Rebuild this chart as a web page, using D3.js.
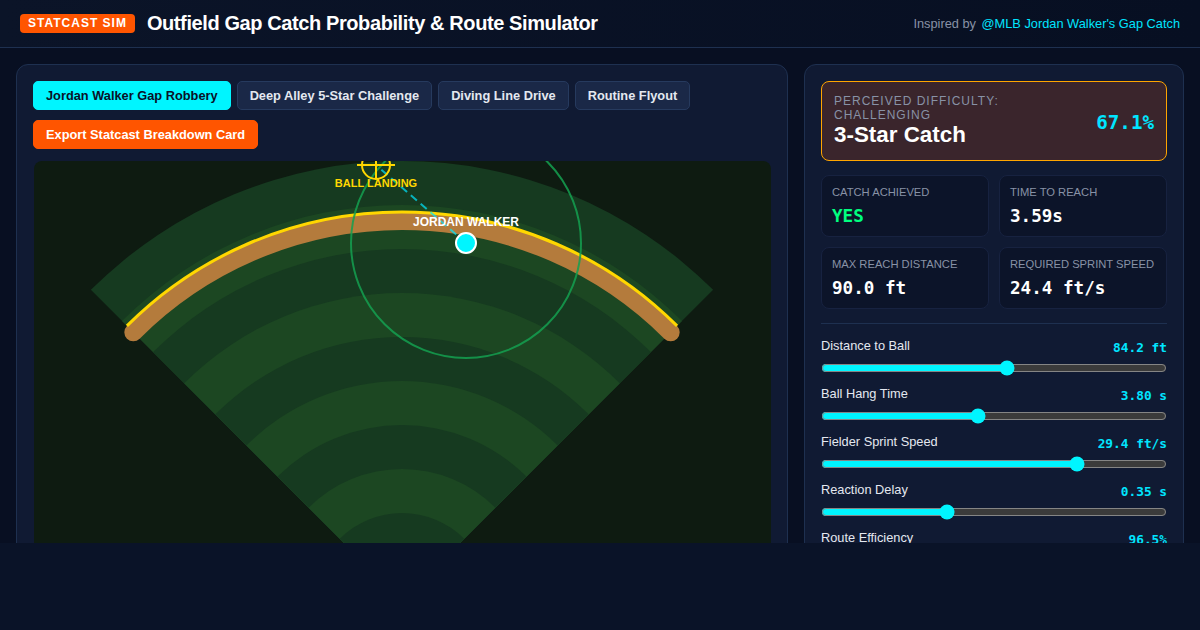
<!DOCTYPE html>
<html>
<head>
<meta charset="utf-8">
<script src="https://cdn.jsdelivr.net/npm/d3@7"></script>
<style>
* { box-sizing: border-box; }
html, body { margin: 0; height: 630px; overflow: hidden; background: #0a1328; font-family: "Liberation Sans", Arial, sans-serif; color: #fff; }
.app { height: 543px; overflow: hidden; position: relative; background: #080f22; }
header { height: 48px; background: linear-gradient(90deg, #0b1428, #070f22); border-bottom: 1px solid #1e3050; display: flex; align-items: center; padding: 0 20px; }
.badge { background: #ff5500; color: #fff; font-size: 12px; font-weight: 700; letter-spacing: 1px; padding: 3px 8px; border-radius: 4px; height: 19px; line-height: 13px; margin-right: 12px; }
h1 { font-size: 20px; font-weight: 700; letter-spacing: -0.4px; margin: 0; }
.inspired { margin-left: auto; font-size: 12.8px; color: #8892a6; }
.inspired a { color: #00e5ff; margin-left: 2px; }
.panel { position: absolute; top: 64px; height: 600px; background: #101a33; border: 1px solid #1e3050; border-radius: 12px; }
#left { left: 16px; width: 772px; padding: 16px; }
#right { left: 804px; width: 380px; padding: 16px; }
.btns { display: flex; flex-wrap: wrap; gap: 10px 6px; }
.btn { height: 29px; padding: 0 12px; border: 1px solid #263a5e; background: #1a2847; color: #e4e8f0; font-size: 12.8px; font-weight: 700; border-radius: 5px; line-height: 27px; }
.btn.on { background: #00f5ff; border-color: #00f5ff; color: #0a1128; }
.btn.exp { background: #ff5500; border-color: #ff5500; color: #fff; }
#field { position: absolute; left: 17px; top: 96px; border-radius: 8px; display: block; }
.hero { height: 80px; border: 1px solid #ffa500; background: #3a252c; border-radius: 8px; position: relative; padding: 12px; }
.hero .lab { font-size: 12px; letter-spacing: 1px; color: #8892a6; line-height: 14px; width: 200px; }
.hero .star { font-size: 22.4px; font-weight: 700; line-height: 26px; }
.hero .pct { position: absolute; right: 12px; top: 29px; font: 700 19.2px "DejaVu Sans Mono", monospace; color: #00e5ff; }
.grid { display: grid; grid-template-columns: 168px 168px; gap: 10px; margin-top: 14px; }
.stat { height: 62px; background: #0c1429; border: 1px solid #172240; border-radius: 8px; padding: 10px; }
.stat .k { font-size: 11.2px; color: #8892a6; line-height: 13px; }
.stat .v { font: 700 17.6px "DejaVu Sans Mono", monospace; margin-top: 5px; line-height: 24px; }
hr { border: 0; border-top: 1px solid #1e3050; margin: 14px 0 0; }
.ctl { height: 48px; position: relative; }
.ctl .n { position: absolute; left: 0; top: 14px; font-size: 12.8px; color: #e4e8f0; line-height: 15px; }
.ctl .val { position: absolute; right: 0; top: 16px; font: 700 12.8px "DejaVu Sans Mono", monospace; color: #00e5ff; line-height: 16px; }
.ctl input { position: absolute; left: 0; top: 36px; width: 346px; height: 16px; margin: 0; accent-color: #00f5ff; color-scheme: dark; }
</style>
</head>
<body>
<div class="app">
  <header>
    <span class="badge">STATCAST SIM</span>
    <h1>Outfield Gap Catch Probability &amp; Route Simulator</h1>
    <span class="inspired">Inspired by <a>@MLB Jordan Walker's Gap Catch</a></span>
  </header>
  <div class="panel" id="left">
    <div class="btns" id="btns"></div>
    <svg id="field" width="737" height="440"></svg>
  </div>
  <div class="panel" id="right">
    <div class="hero">
      <div class="lab">PERCEIVED DIFFICULTY: CHALLENGING</div>
      <div class="star">3-Star Catch</div>
      <div class="pct">67.1%</div>
    </div>
    <div class="grid" id="stats"></div>
    <hr>
    <div id="ctls"></div>
  </div>
</div>
<script>
// Scenario buttons
const scenarios = ["Jordan Walker Gap Robbery", "Deep Alley 5-Star Challenge", "Diving Line Drive", "Routine Flyout"];

// Stat cards
const statLabels = ["CATCH ACHIEVED", "TIME TO REACH", "MAX REACH DISTANCE", "REQUIRED SPRINT SPEED"];
const statValues = ["YES", "3.59s", "90.0 ft", "24.4 ft/s"];

// Sliders
const sliderNames = ["Distance to Ball", "Ball Hang Time", "Fielder Sprint Speed", "Reaction Delay", "Route Efficiency"];
const sliderValues = [84.2, 3.80, 29.4, 0.35, 96.5];
const sliderText = ["84.2 ft", "3.80 s", "29.4 ft/s", "0.35 s", "96.5%"];
const sliderMin = [20, 2, 20, 0, 70];
const sliderMax = [139, 6, 32.5, 0.98, 100];

// Field, in canvas units from home plate
const bandRadii = [440, 396, 352, 308, 264, 220, 176, 132, 88, 44];
const fenceRadius = [389];
const trackRadius = [380];
const ball = [-26, 436];
const fielder = [64, 358];
const reachRadius = [115];

d3.select("#btns").selectAll("div").data(scenarios).enter().append("div")
  .attr("class", (d, i) => i === 0 ? "btn on" : "btn").text(d => d);
d3.select("#btns").append("div").attr("class", "btn exp").text("Export Statcast Breakdown Card");

const cards = d3.select("#stats").selectAll("div").data(statLabels).enter().append("div").attr("class", "stat");
cards.append("div").attr("class", "k").text(d => d);
cards.append("div").attr("class", "v").text((d, i) => statValues[i]).style("color", (d, i) => i === 0 ? "#00ff7f" : "#fff");

const ctl = d3.select("#ctls").selectAll("div").data(sliderNames).enter().append("div").attr("class", "ctl");
ctl.append("div").attr("class", "n").text(d => d);
ctl.append("div").attr("class", "val").text((d, i) => sliderText[i]);
ctl.append("input").attr("type", "range")
  .attr("min", (d, i) => sliderMin[i]).attr("max", (d, i) => sliderMax[i]).attr("step", 0.01)
  .property("value", (d, i) => sliderValues[i]);

// --- FIELD ---
const width = 737, height = 440;
const svg = d3.select("#field");
svg.append("rect").attr("width", width).attr("height", height).attr("fill", "#0e1b11");

const x = d3.scaleLinear().domain([-368, 369]).range([0, width]);
const y = d3.scaleLinear().domain([440, 0]).range([0, 440]);
const home = svg.append("g").attr("transform", `translate(${x(0)},${y(0)})`);
const arc = d3.arc().startAngle(-Math.PI / 4).endAngle(Math.PI / 4).innerRadius(0);

home.selectAll(".band").data(bandRadii).enter().append("path")
  .attr("d", d => arc({ outerRadius: d }))
  .attr("fill", (d, i) => i % 2 === 0 ? "#163a20" : "#1c4722");

function fenceLine(r) {
  const p = d3.path();
  p.arc(0, 0, r, -3 * Math.PI / 4, -Math.PI / 4);
  return p.toString();
}

// reach circle sits under the track
svg.append("circle").attr("cx", x(fielder[0])).attr("cy", y(fielder[1])).attr("r", reachRadius[0])
  .attr("fill", "none").attr("stroke", "#14a050").attr("stroke-opacity", 0.85).attr("stroke-width", 2);

home.append("path").attr("d", fenceLine(trackRadius[0])).attr("fill", "none")
  .attr("stroke", "#b47b3c").attr("stroke-width", 18).attr("stroke-linecap", "round");
home.append("path").attr("d", fenceLine(fenceRadius[0])).attr("fill", "none")
  .attr("stroke", "#ffd700").attr("stroke-width", 3);

// route
svg.append("line").attr("x1", x(fielder[0])).attr("y1", y(fielder[1])).attr("x2", x(ball[0])).attr("y2", y(ball[1]))
  .attr("stroke", "#00e5ff").attr("stroke-opacity", 0.7).attr("stroke-width", 2).attr("stroke-dasharray", "8,5");

// ball landing marker
const bx = x(ball[0]), by = y(ball[1]);
svg.append("circle").attr("cx", bx).attr("cy", by).attr("r", 14).attr("fill", "none").attr("stroke", "#ffd700").attr("stroke-width", 2);
svg.append("line").attr("x1", bx - 19).attr("x2", bx + 19).attr("y1", by).attr("y2", by).attr("stroke", "#ffd700").attr("stroke-width", 2);
svg.append("line").attr("x1", bx).attr("x2", bx).attr("y1", by - 19).attr("y2", by + 14).attr("stroke", "#ffd700").attr("stroke-width", 2);
svg.append("text").attr("x", bx).attr("y", by + 22).attr("text-anchor", "middle").attr("fill", "#ffd700")
  .attr("font-size", 11).attr("font-weight", 700).text("BALL LANDING");

// fielder
svg.append("circle").attr("cx", x(fielder[0])).attr("cy", y(fielder[1])).attr("r", 10)
  .attr("fill", "#00f5ff").attr("stroke", "#fff").attr("stroke-width", 2);
svg.append("text").attr("x", x(fielder[0])).attr("y", y(fielder[1]) - 17).attr("text-anchor", "middle").attr("fill", "#fff")
  .attr("font-size", 12).attr("font-weight", 700).text("JORDAN WALKER");
</script>
</body>
</html>
